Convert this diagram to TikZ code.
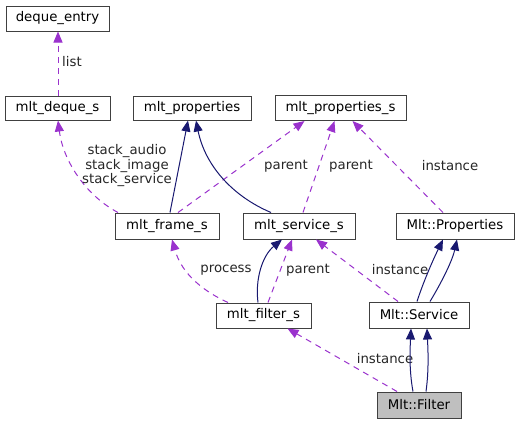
\documentclass[tikz,border=0pt]{standalone}
\usepackage{fontspec}
\setmainfont{DejaVu Sans}
\usetikzlibrary{arrows.meta}
\definecolor{navy}{RGB}{25,25,112}
\definecolor{orchid}{RGB}{154,50,205}
\definecolor{boxgray}{RGB}{191,191,191}
\begin{document}
\begin{tikzpicture}[x=1pt,y=-1pt,
  cls/.style={draw=black!75,line width=1pt,fill=white,inner sep=0pt,font=\fontsize{13.3}{14.5}\selectfont,anchor=center},
  inh/.style={draw=navy,line width=1pt,-{Triangle[length=11pt,width=9pt,fill=navy]}},
  use/.style={draw=orchid,line width=1pt,dash pattern=on 6pt off 5pt,-{Triangle[length=11pt,width=9pt,fill=orchid]}},
  lbl/.style={font=\fontsize{13.3}{14.5}\selectfont,inner sep=0pt,align=center,text=black!85}]
\useasboundingbox (0,0) rectangle (519,424);
\node[cls,minimum width=103pt,minimum height=25pt] (de) at (57.5,18.5) {deque\_entry};
\node[cls,minimum width=105pt,minimum height=24pt] (dq) at (57.5,108) {mlt\_deque\_s};
\node[cls,minimum width=118pt,minimum height=24pt] (mp) at (192,108) {mlt\_properties};
\node[cls,minimum width=131pt,minimum height=25pt] (mps) at (340.5,108) {mlt\_properties\_s};
\node[cls,minimum width=104pt,minimum height=26pt] (fr) at (167,226) {mlt\_frame\_s};
\node[cls,minimum width=112pt,minimum height=26pt] (sv) at (299,226) {mlt\_service\_s};
\node[cls,minimum width=118pt,minimum height=26pt] (MP) at (455,226) {Mlt::Properties};
\node[cls,minimum width=95pt,minimum height=25pt] (fs) at (263.5,315.5) {mlt\_filter\_s};
\node[cls,minimum width=100pt,minimum height=26pt] (MS) at (419,315) {Mlt::Service};
\node[cls,minimum width=84pt,minimum height=26pt,fill=boxgray] (MF) at (419,405) {Mlt::Filter};

% mlt_deque_s -> deque_entry
\draw[use] ([xshift=0.5pt]dq.north) -- ([xshift=0.5pt]de.south);
\node[lbl] (l1) at (72,62) {list};
% mlt_frame_s -> mlt_deque_s
\draw[use] ([xshift=-49pt]fr.north) .. controls (85,195) and (63,160) .. ([xshift=0.5pt]dq.south);
\node[lbl] (l2) at (127,166) {stack\_audio\\stack\_image\\stack\_service};
% mlt_frame_s -> mlt_properties
\draw[inh] ([xshift=3pt]fr.north) -- ([xshift=-4pt]mp.south);
% mlt_frame_s -> mlt_properties_s
\draw[use] ([xshift=11pt]fr.north) -- ([xshift=-36pt]mps.south);
\node[lbl] (l3) at (286,166) {parent};
% mlt_service_s -> mlt_properties
\draw[inh] ([xshift=-28pt]sv.north) .. controls (232,196) and (205,165) .. ([xshift=4pt]mp.south);
% mlt_service_s -> mlt_properties_s
\draw[use] ([xshift=4pt]sv.north) -- ([xshift=-6pt]mps.south);
\node[lbl] (l4) at (351,166) {parent};
% Mlt::Properties -> mlt_properties_s
\draw[use] ([xshift=-12pt]MP.north) -- ([xshift=12pt]mps.south);
\node[lbl] (l5) at (450,166) {instance};
% mlt_filter_s -> mlt_frame_s
\draw[use] ([xshift=-35.5pt]fs.north) .. controls (205,292) and (182,275) .. ([xshift=5pt]fr.south);
\node[lbl] (l6) at (226,270) {process};
% mlt_filter_s -> mlt_service_s (inheritance)
\draw[inh] ([xshift=-5.5pt]fs.north) .. controls (255,280) and (262,256) .. ([xshift=-17pt]sv.south);
% mlt_filter_s -> mlt_service_s (parent)
\draw[use] ([xshift=4.5pt]fs.north) -- ([xshift=-7pt]sv.south);
\node[lbl] (l7) at (308,270) {parent};
% Mlt::Service -> mlt_service_s
\draw[use] ([xshift=-21pt]MS.north) -- ([xshift=17pt]sv.south);
\node[lbl] (l8) at (400,270) {instance};
% Mlt::Service -> Mlt::Properties (twice)
\draw[inh] ([xshift=-2pt]MS.north) .. controls (423,283) and (432,262) .. ([xshift=-12pt]MP.south);
\draw[inh] ([xshift=11pt]MS.north) .. controls (440,285) and (452,262) .. ([xshift=2pt]MP.south);
% Mlt::Filter -> mlt_filter_s
\draw[use] ([xshift=-22pt]MF.north) -- ([xshift=24pt]fs.south);
\node[lbl] (l9) at (385,359) {instance};
% Mlt::Filter -> Mlt::Service (twice)
\draw[inh] ([xshift=-6pt]MF.north) .. controls (409,370) and (410,350) .. ([xshift=-8pt]MS.south);
\draw[inh] ([xshift=7pt]MF.north) .. controls (429,370) and (428,350) .. ([xshift=8pt]MS.south);
\end{tikzpicture}
\end{document}
